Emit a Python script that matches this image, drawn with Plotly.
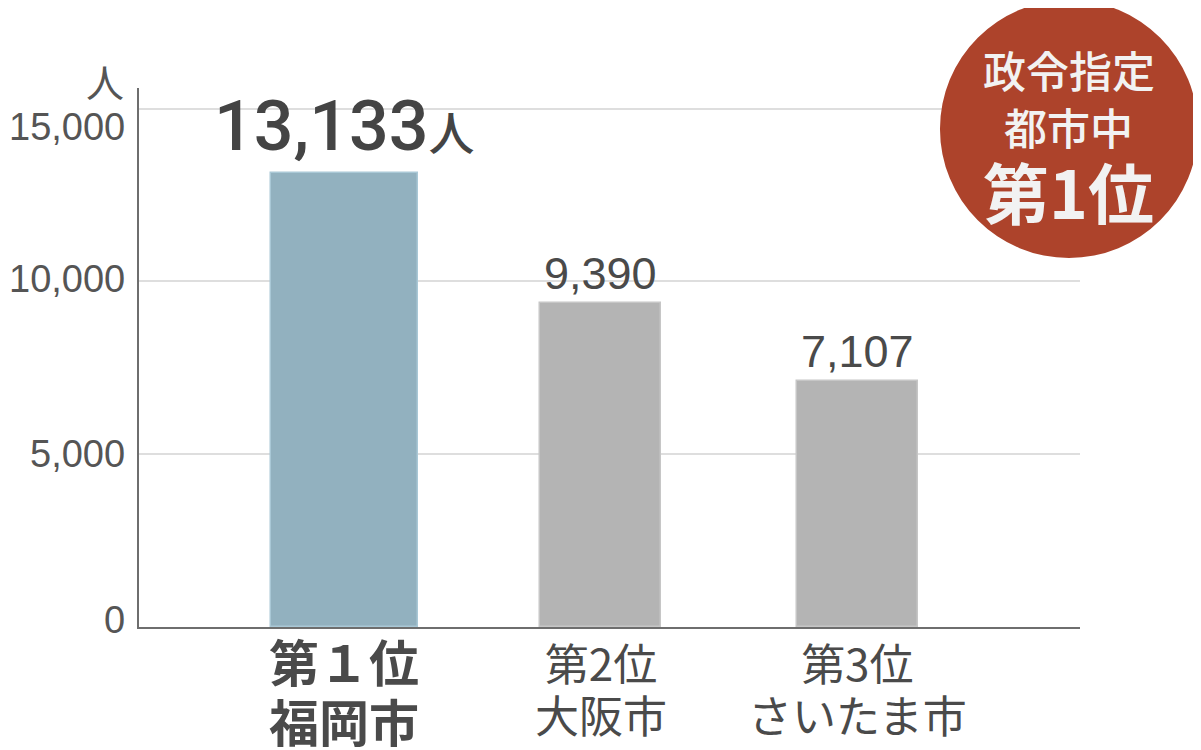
import plotly.graph_objects as go

# ---- data ----
ranks = ["第１位", "第2位", "第3位"]
cities = ["福岡市", "大阪市", "さいたま市"]
values = [13133, 9390, 7107]
value_labels = ["13,133", "9,390", "7,107"]
unit = "人"
y_ticks = [0, 5000, 10000, 15000]
y_tick_labels = ["0", "5,000", "10,000", "15,000"]
badge_lines = ["政令指定", "都市中", "第1位"]

# ---- style ----
LAT = "Liberation Sans, Noto Sans CJK JP, sans-serif"
CJK = "Noto Sans CJK JP, sans-serif"
TXT = "#4a4a4a"
bar_colors = ["#92b1bf", "#b4b4b4", "#b4b4b4"]
bar_edges = ["#a9c8d6", "#c6c6c6", "#c6c6c6"]
bar_widths = [0.573, 0.472, 0.472]

xpos = list(range(len(values)))

fig = go.Figure()
fig.add_trace(go.Bar(
    x=xpos, y=values, width=bar_widths,
    marker=dict(color=bar_colors, line=dict(color=bar_edges, width=1.5)),
    hoverinfo="skip", showlegend=False,
))

fig.update_layout(
    width=1193, height=742,
    margin=dict(l=131, r=121, t=80, b=123),
    paper_bgcolor="white", plot_bgcolor="white",
    bargap=0,
    xaxis=dict(
        range=[-0.8, 2.869], tickvals=xpos, showticklabels=False,
        showline=True, linecolor="#6e6e6e", linewidth=2,
        showgrid=False, zeroline=False, ticks="", fixedrange=True,
    ),
    yaxis=dict(
        range=[0, 15600], tickvals=y_ticks, showticklabels=False,
        showgrid=True, gridcolor="#dedede", gridwidth=2,
        showline=True, linecolor="#6e6e6e", linewidth=2,
        zeroline=False, ticks="", fixedrange=True,
    ),
)

annotations = []
# y tick labels
yshifts = {0: 7, 5000: 0, 10000: 2, 15000: -18}
for v, t in zip(y_ticks, y_tick_labels):
    annotations.append(dict(
        x=0, xref="paper", xanchor="right", xshift=-12,
        y=v, yref="y", yanchor="middle", yshift=yshifts[v],
        text=t, showarrow=False,
        font=dict(family=LAT, size=38, color="#555555"),
    ))
# unit label
annotations.append(dict(
    x=0, xref="paper", xanchor="right", xshift=-13,
    y=15600, yref="y", yanchor="bottom", yshift=-22,
    text=unit, showarrow=False,
    font=dict(family=CJK, size=38, color="#555555"),
))
# x category labels (two lines each, one text per category)
for i, (r, c) in enumerate(zip(ranks, cities)):
    if i == 0:
        base, glyph, top = 46, 50, 5
        text = f"<b><span style='font-size:{glyph}px'>{r}</span><br><span style='font-size:{glyph}px'>{c}</span></b>"
    else:
        base, glyph, top = 40, 44, -1
        text = f"<span style='font-size:{glyph}px'>{r}</span><br><span style='font-size:{glyph}px'>{c}</span>"
    annotations.append(dict(
        x=i, xref="x", y=0, yref="paper", yanchor="top", yshift=top,
        text=text, showarrow=False,
        font=dict(family=CJK, size=base, color=TXT),
    ))
# value labels
for i, (v, lab) in enumerate(zip(values, value_labels)):
    if i == 0:
        text = f"{lab}<span style='font-size:46px'>{unit}</span>"
        annotations.append(dict(
            x=i, y=v, xref="x", yref="y", yanchor="bottom", yshift=4,
            text=text, showarrow=False,
            font=dict(family="Roboto, Noto Sans CJK JP, sans-serif", size=70,
                      color="#444444", weight=500),
        ))
    else:
        annotations.append(dict(
            x=i, y=v, xref="x", yref="y", yanchor="bottom", yshift=2,
            text=lab, showarrow=False,
            font=dict(family=LAT, size=45, color="#4a4a4a"),
        ))

# badge text (paper coords)
badge_y = [1.0353, 0.9295, 0.8108]
badge_sizes = [43, 43, 66]
for j, (t, yy, sz) in enumerate(zip(badge_lines, badge_y, badge_sizes)):
    annotations.append(dict(
        x=0.9883, y=yy, xref="paper", yref="paper",
        xanchor="center", yanchor="middle",
        text=f"<b>{t}</b>" if j == 2 else t, showarrow=False,
        font=dict(family=CJK, size=sz, color="#f2f2f2",
                  weight=700 if j == 2 else 500),
    ))
fig.update_layout(annotations=annotations)

fig.add_shape(
    type="circle", xref="paper", yref="paper",
    x0=0.8512, x1=1.1254, y0=0.6846, y1=1.1633,
    fillcolor="#ad432b", line=dict(width=0), layer="above",
)

fig.write_html("out.html")
